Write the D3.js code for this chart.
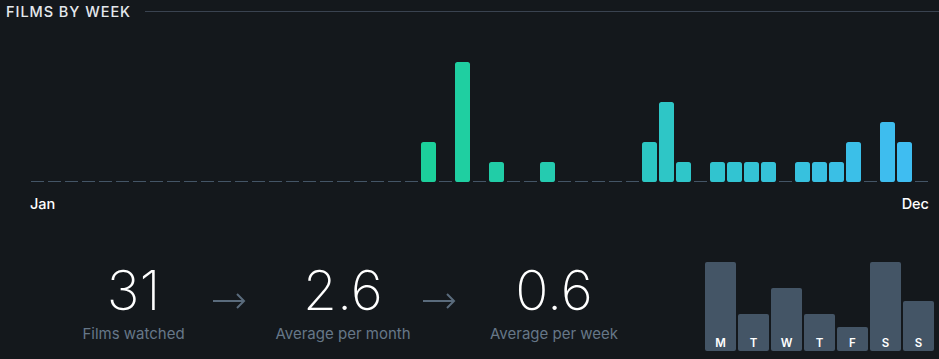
<!DOCTYPE html>
<html>
<head>
<meta charset="utf-8">
<script src="https://cdn.jsdelivr.net/npm/d3@7"></script>
<style>
  body { margin: 0; background: #14181c; }
  svg { display: block; font-family: Inter, "Noto Sans", sans-serif; }
</style>
</head>
<body>
<svg id="drawspace" width="939" height="359"></svg>
<script>
// films logged per week (53 columns, Jan -> Dec)
const weekCounts = [
  0, 0, 0, 0, 0, 0, 0, 0, 0, 0,
  0, 0, 0, 0, 0, 0, 0, 0, 0, 0,
  0, 0, 0, 2, 0, 6, 0, 1, 0, 0,
  1, 0, 0, 0, 0, 0, 2, 4, 1, 0,
  1, 1, 1, 1, 0, 1, 1, 1, 2, 0,
  3, 2, 0
];
const monthLabels = ["Jan", "Dec"];

// summary numbers
const statValues = ["31", "2.6", "0.6"];
const statLabels = ["Films watched", "Average per month", "Average per week"];

// films by day of week
const dayLabels = ["M", "T", "W", "T", "F", "S", "S"];
const dayCounts = [6, 2, 4, 2, 1, 6, 3];

let drawSpace = d3.select("#drawspace");

// heading
drawSpace.append("text")
  .attr("x", 6).attr("y", 17)
  .attr("fill", "#e4e8ec")
  .attr("font-size", 14.5)
  .attr("font-weight", 500)
  .attr("letter-spacing", 0.95)
  .text("FILMS BY WEEK");

drawSpace.append("line")
  .attr("x1", 145).attr("x2", 939)
  .attr("y1", 11.5).attr("y2", 11.5)
  .attr("stroke", "#3a4350");

// week chart
let xScale = d3.scaleBand()
  .domain(d3.range(weekCounts.length))
  .range([30, 30 + 17 * weekCounts.length - 2])
  .paddingInner(2 / 17)
  .paddingOuter(0);

let yScale = d3.scaleLinear().domain([0, 6]).range([182, 62]);
let cScale = d3.scaleLinear()
  .domain([0, weekCounts.length - 1])
  .range(["#00e054", "#40bcf4"])
  .interpolate(d3.interpolateRgb);

let weeks = weekCounts.map((v, i) => ({ v, i }));

// baseline dashes (one per week)
drawSpace.append("g").selectAll("line")
  .data(weeks)
  .enter()
  .append("line")
  .attr("x1", d => xScale(d.i) + 1)
  .attr("x2", d => xScale(d.i) + xScale.bandwidth() - 1)
  .attr("y1", 181.5).attr("y2", 181.5)
  .attr("stroke", "#445566");

drawSpace.append("g").selectAll("rect")
  .data(weeks.filter(d => d.v > 0))
  .enter()
  .append("rect")
  .attr("x", d => xScale(d.i))
  .attr("y", d => yScale(d.v))
  .attr("width", xScale.bandwidth())
  .attr("height", d => yScale(0) - yScale(d.v))
  .attr("rx", 2.5)
  .attr("fill", d => cScale(d.i));

drawSpace.append("text")
  .attr("x", 30).attr("y", 209)
  .attr("fill", "#ffffff").attr("font-size", 14.5).attr("font-weight", 500)
  .text(monthLabels[0]);
drawSpace.append("text")
  .attr("x", 929).attr("y", 209)
  .attr("text-anchor", "end")
  .attr("fill", "#ffffff").attr("font-size", 14.5).attr("font-weight", 500)
  .text(monthLabels[1]);

// stats
const statX = [133.5, 343, 554];
let stats = drawSpace.append("g").selectAll("g")
  .data(statValues)
  .enter()
  .append("g")
  .attr("transform", (d, i) => `translate(${statX[i]},0)`);

stats.append("text")
  .attr("y", 310)
  .attr("text-anchor", "middle")
  .attr("fill", "#ffffff")
  .attr("font-size", 55)
  .attr("font-weight", 200)
  .text(d => d);

stats.append("text")
  .attr("y", 339)
  .attr("text-anchor", "middle")
  .attr("fill", "#678")
  .attr("font-size", 15)
  .text((d, i) => statLabels[i]);

// arrows between the stats
const arrowX = [213, 423];
drawSpace.append("g").selectAll("path")
  .data(arrowX)
  .enter()
  .append("path")
  .attr("d", d => `M${d},301 H${d + 31} M${d + 24},294 L${d + 31},301 L${d + 24},308`)
  .attr("fill", "none")
  .attr("stroke", "#5a6b7c")
  .attr("stroke-width", 2);

// day of week bars
let dxScale = d3.scaleBand()
  .domain(d3.range(dayCounts.length))
  .range([705, 705 + 33 * dayCounts.length - 2])
  .paddingInner(2 / 33)
  .paddingOuter(0);
let dhScale = d3.scaleLinear().domain([0, 6]).range([11, 89]);

let days = drawSpace.append("g").selectAll("g")
  .data(dayCounts)
  .enter()
  .append("g");

days.append("rect")
  .attr("x", (d, i) => dxScale(i))
  .attr("y", d => 351 - dhScale(d))
  .attr("width", dxScale.bandwidth())
  .attr("height", d => dhScale(d))
  .attr("rx", 2)
  .attr("fill", "#445566");

days.append("text")
  .attr("x", (d, i) => dxScale(i) + dxScale.bandwidth() / 2)
  .attr("y", 347)
  .attr("text-anchor", "middle")
  .attr("fill", "#ffffff")
  .attr("font-size", 11.5)
  .attr("font-weight", 600)
  .text((d, i) => dayLabels[i]);
</script>
</body>
</html>
